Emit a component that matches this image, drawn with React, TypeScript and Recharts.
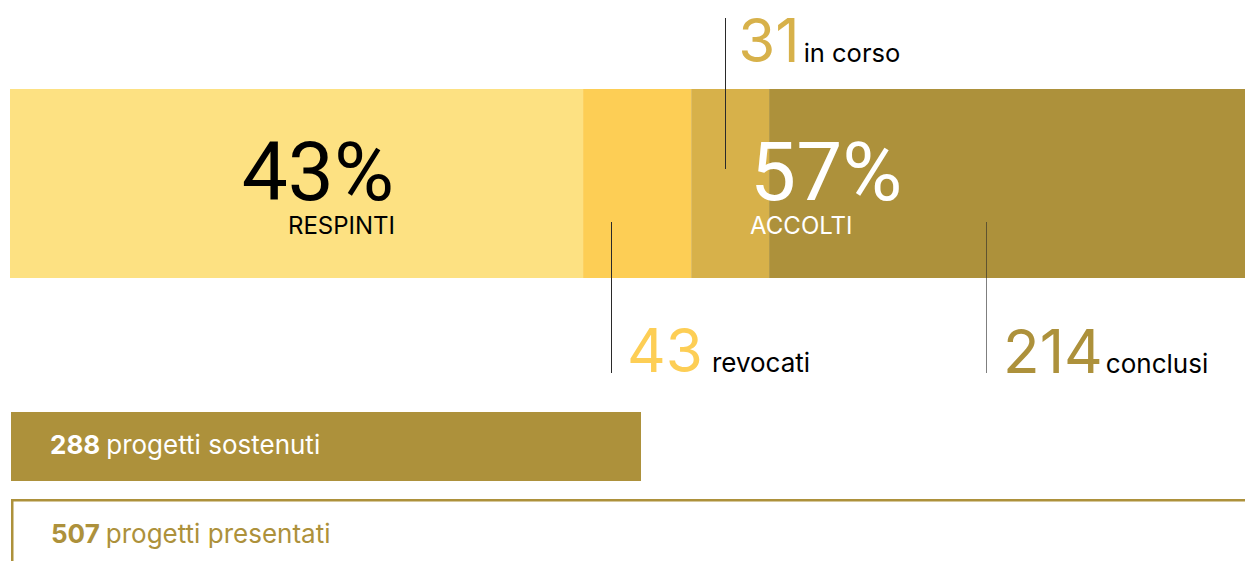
import React from 'react';
import { BarChart, Bar, XAxis, YAxis, LabelList } from 'recharts';

const FONT = 'Inter, "DejaVu Sans", sans-serif';
const BIG_FONT = 'Roboto, Inter, sans-serif';

// ---- Main stacked bar ----
const categories = ['progetti'];
const respinti = [228];
const revocati = [43];
const inCorso = [31];
const conclusi = [214];
const segmentColors = ['#FDE182', '#FDCE55', '#D7B14A', '#AD913B'];
const segmentNames = ['respinti', 'revocati', 'in corso', 'conclusi'];
const percentLabels = ['43%', '57%'];
const groupLabels = ['RESPINTI', 'ACCOLTI'];

// ---- Summary bars ----
const sostenutiValues = [288];
const presentatiValues = [507];
const summaryTexts = ['progetti sostenuti', 'progetti presentati'];
const summaryColor = '#AD913B';

const mainData = categories.map((name, i) => ({
  name,
  respinti: respinti[i],
  revocati: revocati[i],
  inCorso: inCorso[i],
  conclusi: conclusi[i],
}));
const mainTotal = respinti[0] + revocati[0] + inCorso[0] + conclusi[0];

const sostenutiData = sostenutiValues.map((v) => ({ name: 'sostenuti', value: v }));
const presentatiData = presentatiValues.map((v) => ({ name: 'presentati', value: v }));

function box(p: any) {
  const vb = p.viewBox && p.viewBox.width != null ? p.viewBox : p;
  return { x: Number(vb.x), y: Number(vb.y), width: Number(vb.width), height: Number(vb.height) };
}

const LINE = '#2a2a2a';

function RespintiLabel(p: any) {
  const { x, y } = box(p);
  return (
    <g>
      <text x={x + 384} y={y + 111} textAnchor="end" fontSize={82} fill="#000" fontFamily={BIG_FONT}>
        {percentLabels[0]}
      </text>
      <text x={x + 385} y={y + 145} textAnchor="end" fontSize={24} fill="#000" fontFamily={FONT}>
        {groupLabels[0]}
      </text>
    </g>
  );
}

function RevocatiLabel(p: any) {
  const { x, y } = box(p);
  const lx = Math.round(x + 28) + 0.5;
  return (
    <g>
      <line x1={lx} x2={lx} y1={y + 133} y2={y + 284} stroke={LINE} strokeWidth={1} />
      <text x={x + 44} y={y + 283} fontFamily={FONT}>
        <tspan fontSize={60} fill={segmentColors[1]}>{p.value}</tspan>
        <tspan fontSize={26} fill="#000" dx={9}>{segmentNames[1]}</tspan>
      </text>
    </g>
  );
}

function InCorsoLabel(p: any) {
  const { x, y } = box(p);
  const lx = Math.round(x + 34) + 0.5;
  return (
    <g>
      <line x1={lx} x2={lx} y1={y - 71} y2={y + 80} stroke={LINE} strokeWidth={1} />
      <text x={x + 47} y={y - 27} fontFamily={FONT}>
        <tspan fontSize={60} fill={segmentColors[2]}>{p.value}</tspan>
        <tspan fontSize={25.5} fill="#000" dx={4}>{segmentNames[2]}</tspan>
      </text>
    </g>
  );
}

function ConclusiLabel(p: any) {
  const { x, y } = box(p);
  const lx = Math.round(x + 217) + 0.5;
  return (
    <g>
      <text x={x - 19} y={y + 111} fontSize={82} fill="#fff" fontFamily={BIG_FONT}>
        {percentLabels[1]}
      </text>
      <text x={x - 19} y={y + 145} fontSize={24} fill="#fff" fontFamily={FONT}>
        {groupLabels[1]}
      </text>
      <line x1={lx} x2={lx} y1={y + 133} y2={y + 284} stroke={LINE} strokeOpacity={0.6} strokeWidth={1} />
      <text x={x + 234} y={y + 284} fontFamily={FONT}>
        <tspan fontSize={60} fill={segmentColors[3]}>{p.value}</tspan>
        <tspan fontSize={26} fill="#000" dx={3}>{segmentNames[3]}</tspan>
      </text>
    </g>
  );
}

function SostenutiLabel(p: any) {
  const { x, y } = box(p);
  return (
    <text x={x + 39} y={y + 42} fontFamily={FONT} fontSize={26} fill="#fff">
      <tspan fontWeight={700}>{p.value}</tspan>
      <tspan dx={6}>{summaryTexts[0]}</tspan>
    </text>
  );
}

function PresentatiLabel(p: any) {
  const { x, y } = box(p);
  return (
    <text x={x + 40} y={y + 44} fontFamily={FONT} fontSize={26} fill={summaryColor}>
      <tspan fontWeight={700}>{p.value}</tspan>
      <tspan dx={6}>{summaryTexts[1]}</tspan>
    </text>
  );
}

function OutlineShape(p: any) {
  const { x, y, width, height } = p;
  const sw = 2.5;
  const h = sw / 2;
  return (
    <path
      d={`M${x + h},${y + height} L${x + h},${y + h} L${x + width},${y + h}`}
      fill="none"
      stroke={summaryColor}
      strokeWidth={sw}
    />
  );
}

export default function App() {
  return (
    <div
      style={{
        position: 'absolute',
        left: 0,
        top: 0,
        width: 1245,
        height: 561,
        overflow: 'hidden',
        background: '#fff',
      }}
    >
      <div style={{ position: 'absolute', left: 0, top: 0 }}>
        <BarChart
          width={1307}
          height={400}
          data={mainData}
          layout="vertical"
          margin={{ top: 89, right: 0, bottom: 122, left: 10 }}
          barCategoryGap={0}
        >
          <XAxis type="number" hide domain={[0, mainTotal]} />
          <YAxis type="category" dataKey="name" hide />
          <Bar dataKey="respinti" stackId="a" fill={segmentColors[0]} isAnimationActive={false}>
            <LabelList dataKey="respinti" content={RespintiLabel} />
          </Bar>
          <Bar dataKey="revocati" stackId="a" fill={segmentColors[1]} isAnimationActive={false}>
            <LabelList dataKey="revocati" content={RevocatiLabel} />
          </Bar>
          <Bar dataKey="inCorso" stackId="a" fill={segmentColors[2]} isAnimationActive={false}>
            <LabelList dataKey="inCorso" content={InCorsoLabel} />
          </Bar>
          <Bar dataKey="conclusi" stackId="a" fill={segmentColors[3]} isAnimationActive={false}>
            <LabelList dataKey="conclusi" content={ConclusiLabel} />
          </Bar>
        </BarChart>
      </div>

      <div style={{ position: 'absolute', left: 0, top: 412 }}>
        <BarChart
          width={1271}
          height={69}
          data={sostenutiData}
          layout="vertical"
          margin={{ top: 0, right: 0, bottom: 0, left: 11 }}
          barCategoryGap={0}
        >
          <XAxis type="number" hide domain={[0, 576]} />
          <YAxis type="category" dataKey="name" hide />
          <Bar dataKey="value" fill={summaryColor} isAnimationActive={false}>
            <LabelList dataKey="value" content={SostenutiLabel} />
          </Bar>
        </BarChart>
      </div>

      <div style={{ position: 'absolute', left: 0, top: 499 }}>
        <BarChart
          width={1271}
          height={69}
          data={presentatiData}
          layout="vertical"
          margin={{ top: 0, right: 0, bottom: 0, left: 11 }}
          barCategoryGap={0}
        >
          <XAxis type="number" hide domain={[0, 507]} />
          <YAxis type="category" dataKey="name" hide />
          <Bar dataKey="value" shape={OutlineShape} isAnimationActive={false}>
            <LabelList dataKey="value" content={PresentatiLabel} />
          </Bar>
        </BarChart>
      </div>
    </div>
  );
}
